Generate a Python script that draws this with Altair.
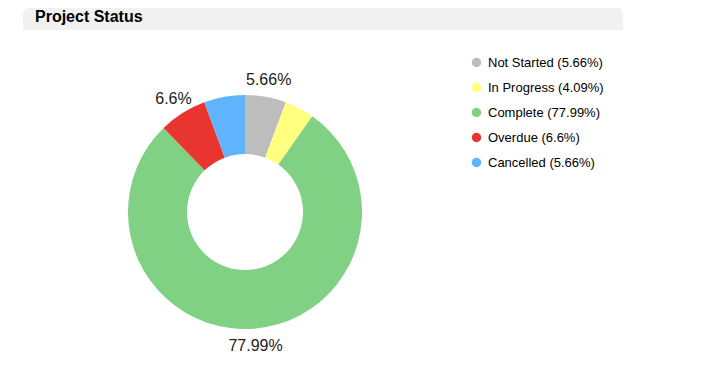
import altair as alt
import pandas as pd

statuses = ["Not Started", "In Progress", "Complete", "Overdue", "Cancelled"]
percents = [5.66, 4.09, 77.99, 6.6, 5.66]
colors = ["#bdbdbd", "#ffff80", "#80d184", "#e8352f", "#60b4fe"]
shown_labels = ["5.66%", "", "77.99%", "6.6%", ""]

legend_labels = [f"{s} ({p}%)" for s, p in zip(statuses, percents)]
df = pd.DataFrame({
    "status": legend_labels,
    "value": percents,
    "order": list(range(len(statuses))),
    "lbl": shown_labels,
})

FONT = "Liberation Sans"
cx, cy = 237, 204

color_scale = alt.Scale(domain=legend_labels, range=colors)

header = alt.Chart(alt.Data(values=[{}])).mark_rect(
    color="#f1f1f1", cornerRadiusTopLeft=6, cornerRadiusTopRight=6
).encode(x=alt.value(15), x2=alt.value(615), y=alt.value(0), y2=alt.value(22))

title = alt.Chart(alt.Data(values=[{}])).mark_text(
    text="Project Status", font=FONT, fontSize=16, fontWeight="bold",
    align="left", baseline="middle", color="#000000"
).encode(x=alt.value(27), y=alt.value(9))

arcs = alt.Chart(df).mark_arc(outerRadius=117, innerRadius=58).encode(
    theta=alt.Theta("value:Q", stack=True),
    order=alt.Order("order:Q"),
    color=alt.Color(
        "status:N", scale=color_scale, sort=legend_labels,
        legend=alt.Legend(
            title=None, orient="none", legendX=462, legendY=48,
            symbolType="circle", symbolSize=90, symbolStrokeWidth=0,
            labelFont=FONT, labelFontSize=13, labelColor="#000000",
            rowPadding=11, labelOffset=5, labelLimit=300,
        ),
    ),
    x=alt.value(cx), y=alt.value(cy),
)

labels = alt.Chart(df).mark_text(
    radius=134, font=FONT, fontSize=16, color="#222222"
).encode(
    theta=alt.Theta("value:Q", stack=True),
    order=alt.Order("order:Q"),
    text="lbl:N",
    x=alt.value(cx), y=alt.value(cy),
)

chart = alt.layer(header, title, arcs, labels).properties(
    width=698, height=352,
    autosize=alt.AutoSizeParams(type="none"),
    padding=0,
).configure_view(stroke=None)

chart.save("out.html", embed_options={"renderer": "svg", "actions": False})
